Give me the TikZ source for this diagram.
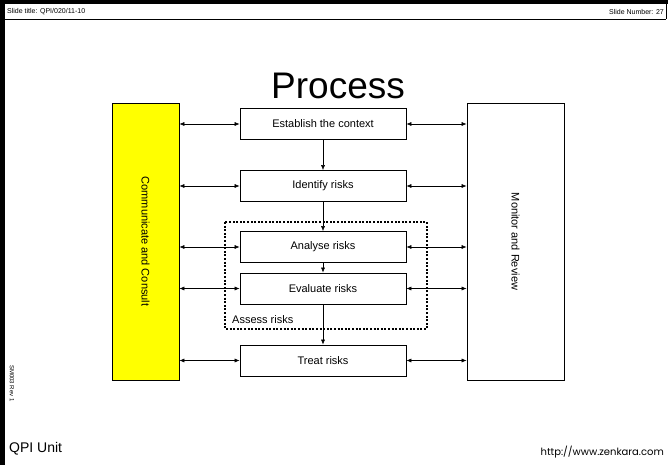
\documentclass[tikz,border=0pt]{standalone}
\usepackage{fontspec}
\setmainfont{Liberation Sans}
\newfontfamily\urlfont{Poppins}
\usetikzlibrary{arrows.meta,positioning}
\definecolor{ink}{HTML}{000000}
\definecolor{consult}{HTML}{FFFF00}
\tikzset{
  stage/.style={draw=ink,fill=white,line width=0.8pt,minimum width=166pt,minimum height=31pt,inner sep=0pt,font=\fontsize{11}{13}\selectfont},
  side/.style={draw=ink,line width=0.8pt,minimum height=277pt,inner sep=0pt},
  flow/.style={-{Latex[length=5pt,width=4pt]},draw=ink,line width=0.5pt},
  link/.style={{Latex[length=5pt,width=4pt]}-{Latex[length=5pt,width=4pt]},draw=ink,line width=0.5pt},
  assess/.style={draw=ink,line width=2pt,dash pattern=on 2pt off 1.6pt},
  small/.style={font=\fontsize{7}{8}\selectfont,inner sep=0pt}
}
\begin{document}
\begin{tikzpicture}[x=1pt,y=-1pt]
  \useasboundingbox (0,0) rectangle (668,465);

  % slide frame
  \fill[ink] (0,0) rectangle (668,4);
  \fill[ink] (0,0) rectangle (5,465);
  \draw[ink,line width=0.8pt] (5,19.5) -- (666,19.5);
  \draw[ink,line width=0.8pt] (666,4) -- (666,19.5);
  \node[small,anchor=west] (slidetitle) at (7,12) {Slide title: QPI/020/11-10};
  \node[small,anchor=east] (slidenum) at (664,12) {Slide Number: 27};

  \node[anchor=base,font=\fontsize{37}{40}\selectfont,inner sep=0pt] (title) at (338,99) {Process};

  \node[side,fill=consult,minimum width=67pt] (consult) at (145.5,241.5) {};
  \node[rotate=-90,font=\fontsize{11}{13}\selectfont] at (consult.center) {Communicate and Consult};
  \node[side,fill=white,minimum width=97pt] (monitor) at (515.5,241.5) {};
  \node[rotate=-90,font=\fontsize{11}{13}\selectfont] at (monitor.center) {Monitor and Review};

  \draw[assess] (225,222) rectangle (427,329);
  \node[anchor=base west,inner sep=0pt,font=\fontsize{11}{13}\selectfont] (assesslabel) at (232,323) {Assess risks};

  \node[stage] (context) at (323,124) {Establish the context};
  \node[stage] (identify) at (323,186) {Identify risks};
  \node[stage] (analyse) at (323,247) {Analyse risks};
  \node[stage] (evaluate) at (323,288.5) {Evaluate risks};
  \node[stage] (treat) at (323,360.5) {Treat risks};

  \draw[flow] (context.south) -- (identify.north);
  \draw[flow] (identify.south) -- (analyse.north);
  \draw[flow] (analyse.south) -- (evaluate.north);
  \draw[flow] (evaluate.south) -- (treat.north);

  \foreach \s in {context,identify,analyse,evaluate,treat}{
    \draw[link] (consult.east |- \s.west) -- (\s.west);
    \draw[link] (\s.east) -- (monitor.west |- \s.east);
  }

  \node[rotate=-90,anchor=west,inner sep=0pt,font=\fontsize{6}{7}\selectfont] (docref) at (12,365) {SM003 Rev 1};
  \node[anchor=base west,inner sep=0pt,font=\fontsize{14}{16}\selectfont] (unit) at (9,452) {QPI Unit};
  \node[anchor=base east,inner sep=0pt,font=\urlfont\fontsize{10}{12}\selectfont] (url) at (664,455) {http://www.zenkara.com};
\end{tikzpicture}
\end{document}
